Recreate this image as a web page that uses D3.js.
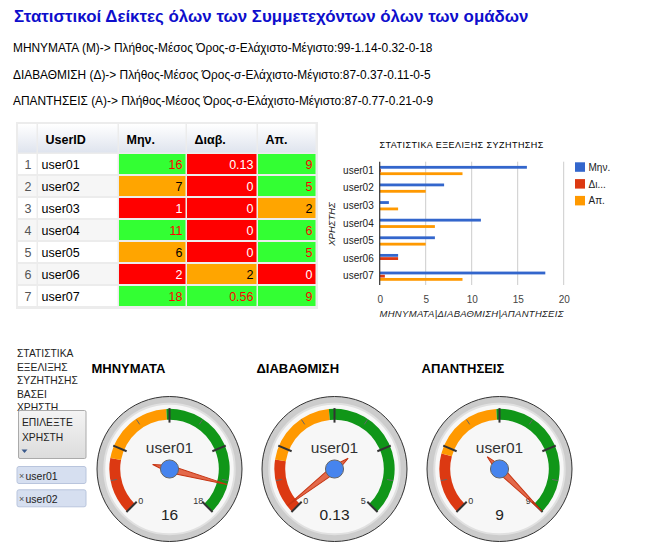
<!DOCTYPE html>
<html>
<head>
<meta charset="utf-8">
<script src="https://cdn.jsdelivr.net/npm/d3@7"></script>
<style>
  body { margin: 0; background: #fff; }
  text { font-family: "Liberation Sans", Arial, sans-serif; }
</style>
</head>
<body>
<div id="chart"></div>
<script>
// data
var title = "Στατιστικοί Δείκτες όλων των Συμμετεχόντων όλων των ομάδων";
var statLines = [
    "ΜΗΝΥΜΑΤΑ (Μ)-> Πλήθος-Μέσος Όρος-σ-Ελάχιστο-Μέγιστο:99-1.14-0.32-0-18",
    "ΔΙΑΒΑΘΜΙΣΗ (Δ)-> Πλήθος-Μέσος Όρος-σ-Ελάχιστο-Μέγιστο:87-0.37-0.11-0-5",
    "ΑΠΑΝΤΗΣΕΙΣ (Α)-> Πλήθος-Μέσος Όρος-σ-Ελάχιστο-Μέγιστο:87-0.77-0.21-0-9"
];
var users = ["user01", "user02", "user03", "user04", "user05", "user06", "user07"];
var columns = ["UserID", "Μην.", "Διαβ.", "Απ."];
var msgs = [16, 7, 1, 11, 6, 2, 18];
var grades = [0.13, 0, 0, 0, 0, 2, 0.56];
var answers = [9, 5, 2, 6, 5, 0, 9];
// level of each table cell (low / mid / high)
var msgLevel = ["high", "mid", "low", "high", "mid", "low", "high"];
var gradeLevel = ["low", "low", "low", "low", "low", "mid", "high"];
var ansLevel = ["high", "high", "mid", "high", "high", "low", "high"];

var barTitle = "ΣΤΑΤΙΣΤΙΚΑ ΕΞΕΛΙΞΗΣ ΣΥΖΗΤΗΣΗΣ";
var series = ["Μην.", "Δι...", "Απ."];
var xTicks = [0, 5, 10, 15, 20];
var xTitle = "ΜΗΝΥΜΑΤΑ|ΔΙΑΒΑΘΜΙΣΗ|ΑΠΑΝΤΗΣΕΙΣ";
var yTitle = "ΧΡΗΣΤΗΣ";

var sideLines = ["ΣΤΑΤΙΣΤΙΚΑ", "ΕΞΕΛΙΞΗΣ", "ΣΥΖΗΤΗΣΗΣ", "ΒΑΣΕΙ", "ΧΡΗΣΤΗ"];
var buttonLines = ["ΕΠΙΛΕΞΤΕ", "ΧΡΗΣΤΗ"];
var chosenUsers = ["user01", "user02"];

var gaugeTitles = ["ΜΗΝΥΜΑΤΑ", "ΔΙΑΒΑΘΜΙΣΗ", "ΑΠΑΝΤΗΣΕΙΣ"];
var gaugeUser = "user01";
var gaugeValues = [16, 0.13, 9];
var gaugeLabels = ["16", "0.13", "9"];
var gaugeMax = [18, 5, 9];
var redTo = [3.7, 1, 2];
var yellowTo = [8.8, 2.4, 4.4];

var W = 651, H = 552;
var svg = d3.select("#chart").append("svg")
    .attr("width", W)
    .attr("height", H);

// header texts
svg.append("text").attr("x", 14).attr("y", 22)
    .style("font-size", "16.9px").style("font-weight", "bold")
    .style("fill", "#0e0ecc").text(title);
svg.selectAll(".stat").data(statLines).enter()
    .append("text").attr("class", "stat")
    .attr("x", 13).attr("y", function (d, i) { return 52 + i * 26.5; })
    .style("font-size", "11.9px").style("fill", "#000")
    .text(function (d) { return d; });

// ---------- table ----------
var cellFill = { high: "#33ff33", mid: "#ffa500", low: "#ff0000" };
var cellText = { high: "#ff0000", mid: "#000", low: "#fff" };
var colEdges = [17.5, 37.5, 118.5, 186.5, 257.5, 316.5];
var rowY = d3.scaleBand().domain(users).range([153, 307]);

var defs = svg.append("defs");
var hg = defs.append("linearGradient").attr("id", "hdr").attr("x1", 0).attr("y1", 0).attr("x2", 0).attr("y2", 1);
hg.append("stop").attr("offset", "0%").attr("stop-color", "#ffffff");
hg.append("stop").attr("offset", "100%").attr("stop-color", "#dfe4ee");

var table = svg.append("g");
table.append("rect").attr("x", 16).attr("y", 122).attr("width", 302).attr("height", 187).style("fill", "#ececec");
for (var c = 0; c < 5; c++) {
    table.append("rect")
        .attr("x", colEdges[c] + 0.5).attr("y", 124)
        .attr("width", colEdges[c + 1] - colEdges[c] - 1.5).attr("height", 28.5)
        .style("fill", "url(#hdr)");
}
table.selectAll(".hd").data(columns).enter()
    .append("text")
    .attr("x", function (d, i) { return colEdges[i + 1] + 8; })
    .attr("y", 143.5)
    .style("font-size", "12.5px").style("font-weight", "bold").style("fill", "#000")
    .text(function (d) { return d; });

var rows = users.map(function (u, i) {
    return { user: u, idx: i + 1, vals: [msgs[i], grades[i], answers[i]], lv: [msgLevel[i], gradeLevel[i], ansLevel[i]] };
});
var rowG = table.selectAll(".row").data(rows).enter().append("g")
    .attr("transform", function (d) { return "translate(0," + rowY(d.user) + ")"; });
rowG.append("rect").attr("x", colEdges[0] + 0.5).attr("y", 1)
    .attr("width", colEdges[1] - colEdges[0] - 1.5).attr("height", rowY.bandwidth() - 2)
    .style("fill", function (d) { return d.idx % 2 ? "#fff" : "#f6f6f6"; });
rowG.append("rect").attr("x", colEdges[1] + 0.5).attr("y", 1)
    .attr("width", colEdges[2] - colEdges[1] - 1.5).attr("height", rowY.bandwidth() - 2)
    .style("fill", function (d) { return d.idx % 2 ? "#fff" : "#f6f6f6"; });
rowG.append("text").attr("x", 28).attr("y", 16).attr("text-anchor", "middle")
    .style("font-size", "12.5px").style("fill", "#555").text(function (d) { return d.idx; });
rowG.append("text").attr("x", 41.5).attr("y", 16)
    .style("font-size", "12.5px").style("fill", "#000").text(function (d) { return d.user; });
[0, 1, 2].forEach(function (k) {
    rowG.append("rect").attr("x", colEdges[k + 2] + 0.5).attr("y", 1)
        .attr("width", colEdges[k + 3] - colEdges[k + 2] - 1.5).attr("height", rowY.bandwidth() - 2)
        .style("fill", function (d) { return cellFill[d.lv[k]]; });
    rowG.append("text").attr("x", colEdges[k + 3] - 4).attr("y", 16).attr("text-anchor", "end")
        .style("font-size", "12.5px")
        .style("fill", function (d) { return cellText[d.lv[k]]; })
        .text(function (d) { return d.vals[k]; });
});

// ---------- bar chart ----------
var barColors = ["#3366cc", "#dc3912", "#ff9900"];
var x = d3.scaleLinear().domain([0, 20]).range([379.7, 563.7]);
var y = d3.scaleBand().domain(users).range([161.7, 285]);
var ys = d3.scaleBand().domain(series).range([4.2, 13.4]).paddingInner(0.12);

var bc = svg.append("g");
bc.append("text").attr("x", 379.5).attr("y", 147.5)
    .style("font-size", "9px").style("fill", "#000").style("letter-spacing", "0.45px")
    .text(barTitle);
bc.selectAll(".grid").data(xTicks.slice(1)).enter()
    .append("line")
    .attr("x1", function (d) { return x(d); }).attr("x2", function (d) { return x(d); })
    .attr("y1", 161.7).attr("y2", 285)
    .style("stroke", "#cccccc").style("stroke-width", 1);
var xAxis = bc.append("g").attr("transform", "translate(0,285)")
    .call(d3.axisBottom(x).tickValues(xTicks).tickSize(0).tickPadding(11));
xAxis.select(".domain").remove();
xAxis.selectAll("text").style("font-size", "10px").style("fill", "#444")
    .style("font-family", "'Liberation Sans', Arial, sans-serif");
var yAxis = bc.append("g").attr("transform", "translate(379.7,0)")
    .call(d3.axisLeft(y).tickSize(0).tickPadding(6));
yAxis.select(".domain").remove();
yAxis.selectAll("text").style("font-size", "10px").style("fill", "#222")
    .style("font-family", "'Liberation Sans', Arial, sans-serif");

var barData = [];
users.forEach(function (u, i) {
    [msgs[i], grades[i], answers[i]].forEach(function (v, k) {
        barData.push({ user: u, s: series[k], v: v, k: k });
    });
});
bc.selectAll(".bar").data(barData).enter()
    .append("rect")
    .attr("x", x(0))
    .attr("y", function (d) { return y(d.user) + ys(d.s); })
    .attr("width", function (d) { return x(d.v) - x(0); })
    .attr("height", ys.bandwidth())
    .style("fill", function (d) { return barColors[d.k]; });
bc.append("line").attr("x1", x(0)).attr("x2", x(0)).attr("y1", 161.7).attr("y2", 285)
    .style("stroke", "#333").style("stroke-width", 1.2);

bc.append("text").attr("x", 379.5).attr("y", 316.5)
    .style("font-size", "9.5px").style("font-style", "italic").style("fill", "#222")
    .style("letter-spacing", "0.3px")
    .text(xTitle);
bc.append("text").attr("transform", "translate(335,224) rotate(-90)")
    .attr("text-anchor", "middle")
    .style("font-size", "9.5px").style("font-style", "italic").style("fill", "#222")
    .text(yTitle);

var leg = bc.selectAll(".leg").data(series).enter().append("g")
    .attr("transform", function (d, i) { return "translate(575," + (162.3 + i * 16.8) + ")"; });
leg.append("rect").attr("width", 10).attr("height", 9.5)
    .style("fill", function (d, i) { return barColors[i]; });
leg.append("text").attr("x", 13.5).attr("y", 8.5)
    .style("font-size", "10px").style("fill", "#222").text(function (d) { return d; });

// ---------- left controls ----------
var side = svg.append("g");
side.selectAll(".sl").data(sideLines).enter().append("text")
    .attr("x", 17).attr("y", function (d, i) { return 357 + i * 13.5; })
    .style("font-size", "10.3px").style("fill", "#222")
    .text(function (d) { return d; });
var bg = defs.append("linearGradient").attr("id", "btn").attr("x1", 0).attr("y1", 0).attr("x2", 0).attr("y2", 1);
bg.append("stop").attr("offset", "0%").attr("stop-color", "#f4f4f4");
bg.append("stop").attr("offset", "100%").attr("stop-color", "#dcdcdc");
side.append("rect").attr("x", 18.5).attr("y", 410.5).attr("width", 67.5).attr("height", 48)
    .attr("rx", 1.5)
    .style("fill", "url(#btn)").style("stroke", "#aaa");
side.selectAll(".bl").data(buttonLines).enter().append("text")
    .attr("x", 22).attr("y", function (d, i) { return 425.5 + i * 15; })
    .style("font-size", "10.3px").style("fill", "#222")
    .text(function (d) { return d; });
side.append("path").attr("d", "M21.5,449.5 L27.5,449.5 L24.5,453 Z").style("fill", "#3a5a8c");
var tag = side.selectAll(".tag").data(chosenUsers).enter().append("g")
    .attr("transform", function (d, i) { return "translate(17," + (466.5 + i * 23.3) + ")"; });
tag.append("rect").attr("width", 69).attr("height", 17).attr("rx", 2)
    .style("fill", "#d6dff0").style("stroke", "#b9c5dd");
tag.append("text").attr("x", 2).attr("y", 12.5)
    .style("font-size", "9px").style("fill", "#555").text("×");
tag.append("text").attr("x", 8.5).attr("y", 13)
    .style("font-size", "10.5px").style("fill", "#222").text(function (d) { return d; });

// ---------- gauges ----------
var gx = d3.scaleLinear().domain([0, 2]).range([169.5, 499.5]);
var gcy = 469, R = 72.5;
var toRad = Math.PI / 180;
var bandArc = d3.arc().innerRadius(R * 0.68).outerRadius(R * 0.83);

gaugeTitles.forEach(function (t, i) {
    svg.append("text").attr("x", gx(i) - 78).attr("y", 372.5)
        .style("font-size", "13px").style("font-weight", "bold").style("fill", "#000")
        .text(t);
    var g = svg.append("g").attr("transform", "translate(" + gx(i) + "," + gcy + ")");
    var ang = d3.scaleLinear().domain([0, gaugeMax[i]]).range([-135, 135]);
    g.append("circle").attr("r", R).style("fill", "#cccccc").style("stroke", "#333").style("stroke-width", 1);
    g.append("circle").attr("r", R * 0.9).style("fill", "#f7f7f7").style("stroke", "#e0e0e0").style("stroke-width", 2);
    var bands = [
        { a: 0, b: redTo[i], c: "#dc3912" },
        { a: redTo[i], b: yellowTo[i], c: "#ff9900" },
        { a: yellowTo[i], b: gaugeMax[i], c: "#109618" }
    ];
    g.selectAll(".band").data(bands).enter().append("path")
        .attr("d", function (d) { return bandArc({ startAngle: ang(d.a) * toRad, endAngle: ang(d.b) * toRad }); })
        .style("fill", function (d) { return d.c; });
    // ticks: 4 major intervals, each split in 2
    var tickVals = d3.range(0, 9).map(function (j) { return gaugeMax[i] * j / 8; });
    g.selectAll(".tk").data(tickVals).enter().append("line")
        .attr("x1", function (d, j) { return Math.sin(ang(d) * toRad) * R * (j % 2 ? 0.74 : 0.64); })
        .attr("y1", function (d, j) { return -Math.cos(ang(d) * toRad) * R * (j % 2 ? 0.74 : 0.64); })
        .attr("x2", function (d, j) { return Math.sin(ang(d) * toRad) * R * (j % 2 ? 0.82 : 0.84); })
        .attr("y2", function (d, j) { return -Math.cos(ang(d) * toRad) * R * (j % 2 ? 0.82 : 0.84); })
        .style("stroke", function (d, j) { return j % 2 ? "#666" : "#333"; })
        .style("stroke-width", function (d, j) { return j % 2 ? 1 : 2; });
    // min / max labels
    g.selectAll(".mm").data([0, gaugeMax[i]]).enter().append("text")
        .attr("x", function (d) { return Math.sin(ang(d) * toRad) * R * 0.56; })
        .attr("y", function (d) { return -Math.cos(ang(d) * toRad) * R * 0.56 + 6; })
        .attr("text-anchor", "middle")
        .style("font-size", "9px").style("fill", "#333")
        .text(function (d) { return d; });
    g.append("text").attr("y", -16).attr("text-anchor", "middle")
        .style("font-size", "15.5px").style("fill", "#333").text(gaugeUser);
    g.append("text").attr("y", 50.5).attr("text-anchor", "middle")
        .style("font-size", "15.5px").style("fill", "#222").text(gaugeLabels[i]);
    // needle
    var w = R * 0.05;
    g.append("path")
        .attr("d", "M0," + (-R * 0.82) + " L" + w + ",0 L0," + (R * 0.24) + " L" + (-w) + ",0 Z")
        .attr("transform", "rotate(" + ang(gaugeValues[i]) + ")")
        .style("fill", "#dc3912").style("fill-opacity", 0.75)
        .style("stroke", "#c63310").style("stroke-width", 1);
    g.append("circle").attr("r", R * 0.125)
        .style("fill", "#4684ee").style("stroke", "#666").style("stroke-width", 1);
});
</script>
</body>
</html>
